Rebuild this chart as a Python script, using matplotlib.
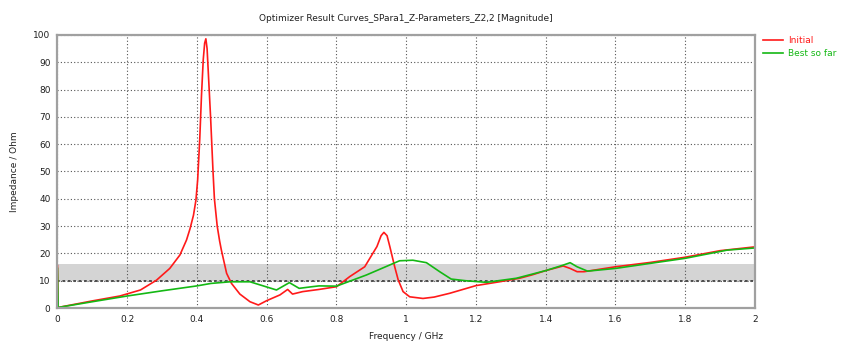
import matplotlib
matplotlib.use("Agg")
import matplotlib.pyplot as plt

# ── Data ────────────────────────────────────────────────────────────────
TITLE = "Optimizer Result Curves_SPara1_Z-Parameters_Z2,2 [Magnitude]"
X_LABEL = "Frequency / GHz"
Y_LABEL = "Impedance / Ohm"
x_ticks = [0, 0.2, 0.4, 0.6, 0.8, 1.0, 1.2, 1.4, 1.6, 1.8, 2.0]
x_tick_labels = ["0", "0.2", "0.4", "0.6", "0.8", "1", "1.2", "1.4", "1.6", "1.8", "2"]
y_ticks = [0, 10, 20, 30, 40, 50, 60, 70, 80, 90, 100]
goal_band = (10, 16)

initial_f = [0, 0.002, 0.1, 0.179, 0.238, 0.284, 0.322, 0.351, 0.37, 0.38,
             0.39, 0.397, 0.402, 0.408, 0.413, 0.418, 0.422, 0.4255, 0.429,
             0.431, 0.439, 0.446, 0.450, 0.458, 0.465, 0.47, 0.485, 0.499,
             0.523, 0.552, 0.576, 0.6, 0.638, 0.66, 0.674, 0.703, 0.75, 0.8,
             0.838, 0.881, 0.916, 0.928, 0.936, 0.945, 0.953, 0.967, 0.977,
             0.991, 1.01, 1.048, 1.08, 1.125, 1.2, 1.267, 1.325, 1.36,
             1.4, 1.45, 1.47, 1.49, 1.51, 1.6, 1.7, 1.8, 1.9, 2.0]
initial_z = [15.5, 0.2, 2.6, 4.4, 6.6, 10.2, 14.5, 19.4, 24.9, 29.0,
             34.0, 39.5, 47.0, 62.0, 78.0, 91.0, 97.0, 98.6, 95.0,
             90.0, 70.0, 50.0, 40.0, 30.0, 24.5, 21.2, 12.7, 9.0,
             5.1, 2.3, 1.1, 2.7, 4.8, 6.8, 5.1, 6.0, 6.8, 7.8,
             11.5, 15.1, 22.5, 26.5, 27.7, 26.5, 22.5, 15.1, 10.3,
             6.0, 4.1, 3.5, 4.0, 5.4, 8.2, 9.6, 10.9, 12.1,
             13.7, 15.4, 14.5, 13.3, 13.3, 15.1, 16.7, 18.6, 21.0, 22.4]

best_f = [0, 0.002, 0.1, 0.2, 0.3, 0.4, 0.44, 0.495, 0.552, 0.59, 0.628,
          0.665, 0.693, 0.73, 0.75, 0.8, 0.886, 0.981, 1.019, 1.058, 1.096,
          1.129, 1.17, 1.23, 1.316, 1.4, 1.45, 1.47, 1.49, 1.52, 1.6, 1.8,
          1.92, 2.0]
best_z = [14.5, 0.2, 2.3, 4.4, 6.3, 8.1, 9.0, 9.6, 9.6, 8.1, 6.6,
          9.3, 7.2, 7.8, 8.1, 8.0, 12.1, 17.3, 17.5, 16.6, 13.3,
          10.6, 10.0, 9.4, 10.9, 13.7, 15.7, 16.6, 15.1, 13.5, 14.5, 18.2,
          21.2, 22.0]

RED = "#ff1a1a"
GREEN = "#14b814"
GRID = "#555555"
FRAME = "#a0a0a0"

plt.rcParams["font.family"] = ["DejaVu Sans"]

fig = plt.figure(figsize=(8.44, 3.42), dpi=100)
ax = fig.add_axes([0.0681, 0.0994, 0.8264, 0.7983])

# goal band + its lower edge
ax.axhspan(*goal_band, color="#d4d4d4", lw=0, zorder=0.5)
ax.axhline(goal_band[0], color="#404040", lw=1.3, ls=(0, (1.5, 1.5)), zorder=1.5)

ax.plot(initial_f, initial_z, color=RED, lw=1.2, label="Initial", zorder=3)
ax.plot(best_f, best_z, color=GREEN, lw=1.2, label="Best so far", zorder=4)

ax.set_xlim(0, 2)
ax.set_ylim(0, 100)
ax.set_xticks(x_ticks)
ax.set_xticklabels(x_tick_labels)
ax.set_yticks(y_ticks)
ax.tick_params(length=0, labelsize=6.5, colors="#202020", pad=5)
ax.grid(True, color=GRID, lw=0.8, ls=(0, (1, 2)), zorder=1)
ax.set_axisbelow(False)

for side, sp in ax.spines.items():
    sp.set_color(FRAME)
    sp.set_linewidth(1.6)
    sp.set_zorder(5)

ax.set_xlabel(X_LABEL, fontsize=6.5, labelpad=6, color="#202020")
ax.set_ylabel(Y_LABEL, fontsize=6.5, labelpad=10, color="#202020")
fig.text(0.481, 0.945, TITLE, ha="center", va="center", fontsize=6.5, color="#202020")

ax.legend(loc="upper left", bbox_to_anchor=(1.007, 1.01), frameon=False,
          fontsize=6.5, labelcolor="linecolor", handlelength=2.2,
          handletextpad=0.5, labelspacing=0.5, borderaxespad=0)

fig.savefig("out.png", dpi=100)
